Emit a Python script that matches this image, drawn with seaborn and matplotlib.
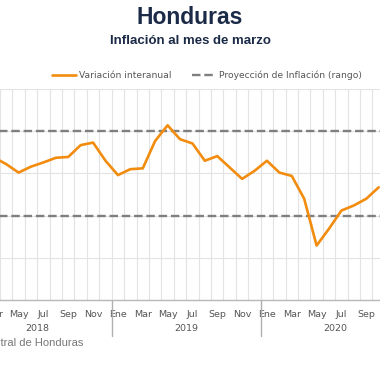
import numpy as np
import pandas as pd
import matplotlib
matplotlib.use("Agg")
import matplotlib.pyplot as plt
import matplotlib.transforms as mtransforms
import seaborn as sns

# monthly year-on-year inflation, Jan 2018 .. Oct 2020 (%)
values_2018 = [4.50, 4.40, 4.38, 4.22, 4.02, 4.16, 4.26, 4.37, 4.39, 4.67, 4.73, 4.30]
values_2019 = [3.96, 4.10, 4.12, 4.77, 5.14, 4.81, 4.71, 4.30, 4.41, 4.14, 3.87, 4.06]
values_2020 = [4.30, 4.02, 3.94, 3.40, 2.29, 2.69, 3.12, 3.24, 3.40, 3.67]
month_labels = ["Ene", "Feb", "Mar", "Abr", "May", "Jun", "Jul", "Ago", "Sep", "Oct", "Nov", "Dic"]
years = ["2018", "2019", "2020"]
target_low = 3.0
target_high = 5.0

values = values_2018 + values_2019 + values_2020
df = pd.DataFrame({"mes": np.arange(len(values)) + 0.5, "inflacion": values})

sns.set_style("white")
plt.rcParams["font.family"] = ["DejaVu Sans"]

fig = plt.figure(figsize=(3.8, 3.8), dpi=100)
# plot area is wider than the picture (the source image is cropped)
ax = fig.add_axes([-37.3 / 380, 80 / 380, 422.2 / 380, 211 / 380])

n_months = 34
ax.set_xlim(0, n_months)
ax.set_ylim(1, 6)

ax.set_xticks(np.arange(0, n_months + 1), minor=True)
centers = np.arange(0, n_months, 2) + 0.5
ax.set_xticks(centers, [month_labels[int(c) % 12] for c in centers])
ax.set_yticks(np.arange(1, 7))
ax.set_yticklabels([])
ax.grid(which="minor", axis="x", color="#e3e3e3", lw=0.8)
ax.grid(which="major", axis="y", color="#e3e3e3", lw=0.8)
ax.tick_params(axis="x", which="both", length=0, labelsize=6.8, colors="#555555", pad=7)
ax.tick_params(axis="y", length=0)
for s in ["top", "left", "right"]:
    ax.spines[s].set_visible(False)
ax.spines["bottom"].set_color("#b8b8b8")
ax.spines["bottom"].set_linewidth(1.0)

ax.axhline(target_high, color="#7f7f7f", lw=1.7, ls=(0, (3.6, 1.6)), zorder=2)
ax.axhline(target_low, color="#7f7f7f", lw=1.7, ls=(0, (3.6, 1.6)), zorder=2,
           label="Proyección de Inflación (rango)")

sns.lineplot(data=df, x="mes", y="inflacion", color="#f28c0f", lw=1.9, ax=ax,
             label="Variación interanual", zorder=3)
ax.set_xlabel("")
ax.set_ylabel("")
ax.get_legend().remove()

trans = mtransforms.blended_transform_factory(ax.transData, ax.transAxes)
for i, y in enumerate(years):
    ax.text(i * 12 + 6, -0.135, y, transform=trans, ha="center", va="center",
            fontsize=6.8, color="#555555")
    if i > 0:
        ax.plot([i * 12, i * 12], [0, -0.17], transform=trans, color="#b0b0b0",
                lw=1.0, clip_on=False)

handles, labels = ax.get_legend_handles_labels()
order = [labels.index("Variación interanual"), labels.index("Proyección de Inflación (rango)")]
fig.legend([handles[i] for i in order], [labels[i] for i in order],
           loc="center", bbox_to_anchor=(207 / 380, 1 - 75 / 380), ncol=2,
           frameon=False, fontsize=6.6, handlelength=2.6, handletextpad=0.4,
           columnspacing=2.2, labelcolor="#555555")

fig.text(0.5, 1 - 17 / 380, "Honduras", ha="center", va="center", fontsize=16.5,
         fontweight="bold", color="#1b2a47", family="Liberation Sans")
fig.text(0.5, 1 - 41 / 380, "Inflación al mes de marzo", ha="center", va="center",
         fontsize=9.5, fontweight="bold", color="#1b2a47", family="Liberation Sans")
fig.text(83 / 380, 1 - 343 / 380, "Fuente: Banco Central de Honduras", ha="right",
         va="center", fontsize=8, color="#777777", family="Liberation Sans")

fig.savefig("out.png", dpi=100)
